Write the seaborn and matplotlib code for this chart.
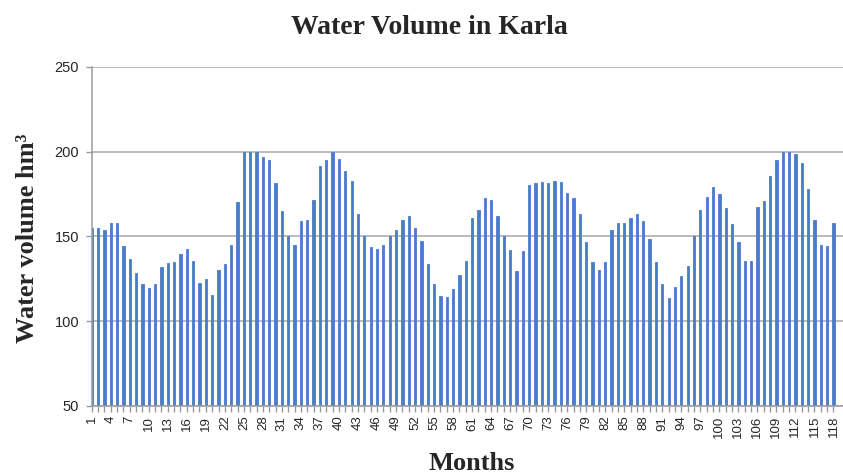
import matplotlib
matplotlib.use('agg')
import matplotlib.pyplot as plt
import pandas as pd
import seaborn as sns

# --- data: monthly water volume (hm3) ---
months = [str(m) for m in range(1, 119)]
volume = [
    155.0,  # month 1 sits on the y axis, hidden in the original
    155.0, 153.6, 158.1, 158.0, 144.2, 136.7, 128.2, 121.8, 119.6, 121.8,
    132.0, 134.3, 135.0, 139.7, 142.7, 135.7, 122.6, 125.0, 115.7, 130.4,
    133.5, 145.0, 170.4, 200.0, 200.0, 200.0, 196.6, 195.0,
    181.3, 165.1, 150.0, 145.0, 158.9, 159.5, 171.8, 191.3, 195.0, 200.0,
    195.8, 188.9, 182.5, 163.5, 150.0, 143.5, 142.7, 145.0, 150.0, 153.6,
    159.5, 161.9, 155.0, 147.4, 133.5, 121.8, 114.9, 114.3, 118.8,
    127.2, 135.7, 161.1, 165.9, 172.6, 171.8, 161.9, 150.0, 142.1, 129.6,
    141.3, 180.4, 181.3, 181.9, 181.3, 182.5, 181.9, 175.8, 172.6, 163.5,
    146.6, 134.9, 130.4, 134.9, 153.6, 158.1, 158.1, 161.1, 163.5,
    158.9, 148.8, 134.9, 121.8, 113.5, 120.4, 126.6, 132.7, 150.0, 165.9,
    173.4, 179.0, 175.0, 166.7, 157.3, 146.6, 135.7, 135.7, 167.3, 171.2,
    185.9, 195.0, 200.0, 200.0, 198.8, 193.5, 178.2, 159.5, 145.0, 144.2,
    158.1,
]
y_ticks = [50, 100, 150, 200, 250]

df = pd.DataFrame({'month': months, 'volume': volume})

sns.set_style("white")
plt.rcParams['font.family'] = ['Liberation Sans', 'DejaVu Sans']

fig = plt.figure(figsize=(8.43, 4.75), dpi=100)
ax = fig.add_axes([0.1088, 0.1453, 0.8912, 0.7137])

bar_color = '#4A7CCB'
sns.barplot(data=df, x='month', y='volume', color=bar_color, width=0.36,
            saturation=1, edgecolor=bar_color, linewidth=0.6, ax=ax, zorder=2)

ax.set_ylim(50, 250)
ax.set_yticks(y_ticks)
ax.set_xlim(0, (843 - 91.7) / 6.34)
ax.set_xticks(range(0, len(months), 3))
ax.set_xticklabels(months[::3], rotation=90)
ax.set_xticks(range(len(months)), minor=True)

ax.grid(axis='y', color='#a8a8a8', linewidth=1.1, zorder=0)
ax.grid(axis='x', visible=False)
ax.set_axisbelow(True)

for side in ['top', 'right']:
    ax.spines[side].set_visible(False)
for side in ['left', 'bottom']:
    ax.spines[side].set_color('#9a9a9a')
    ax.spines[side].set_linewidth(1.1)

ax.tick_params(axis='y', which='major', direction='out', length=4, width=1,
               color='#9a9a9a', labelsize=10.5, labelcolor='#262626', left=True, pad=5)
ax.tick_params(axis='x', which='both', direction='out', length=4, width=1,
               color='#9a9a9a', labelsize=9.5, labelcolor='#262626', bottom=True, pad=3)
ax.set_xlabel('')
ax.set_ylabel('')

serif = ['Liberation Serif', 'DejaVu Serif']
fig.text(0.509, 1 - 28 / 475, 'Water Volume in Karla', ha='center', va='center',
         fontsize=20, fontweight='bold', family=serif)
fig.text(472 / 843, 1 - 463 / 475, 'Months', ha='center', va='center',
         fontsize=19, fontweight='bold', family=serif)
fig.text(28 / 843, 1 - 238 / 475, 'Water volume hm³', ha='center', va='center',
         rotation=90, fontsize=19, fontweight='bold', family=serif)

plt.savefig('out.png', dpi=100)
